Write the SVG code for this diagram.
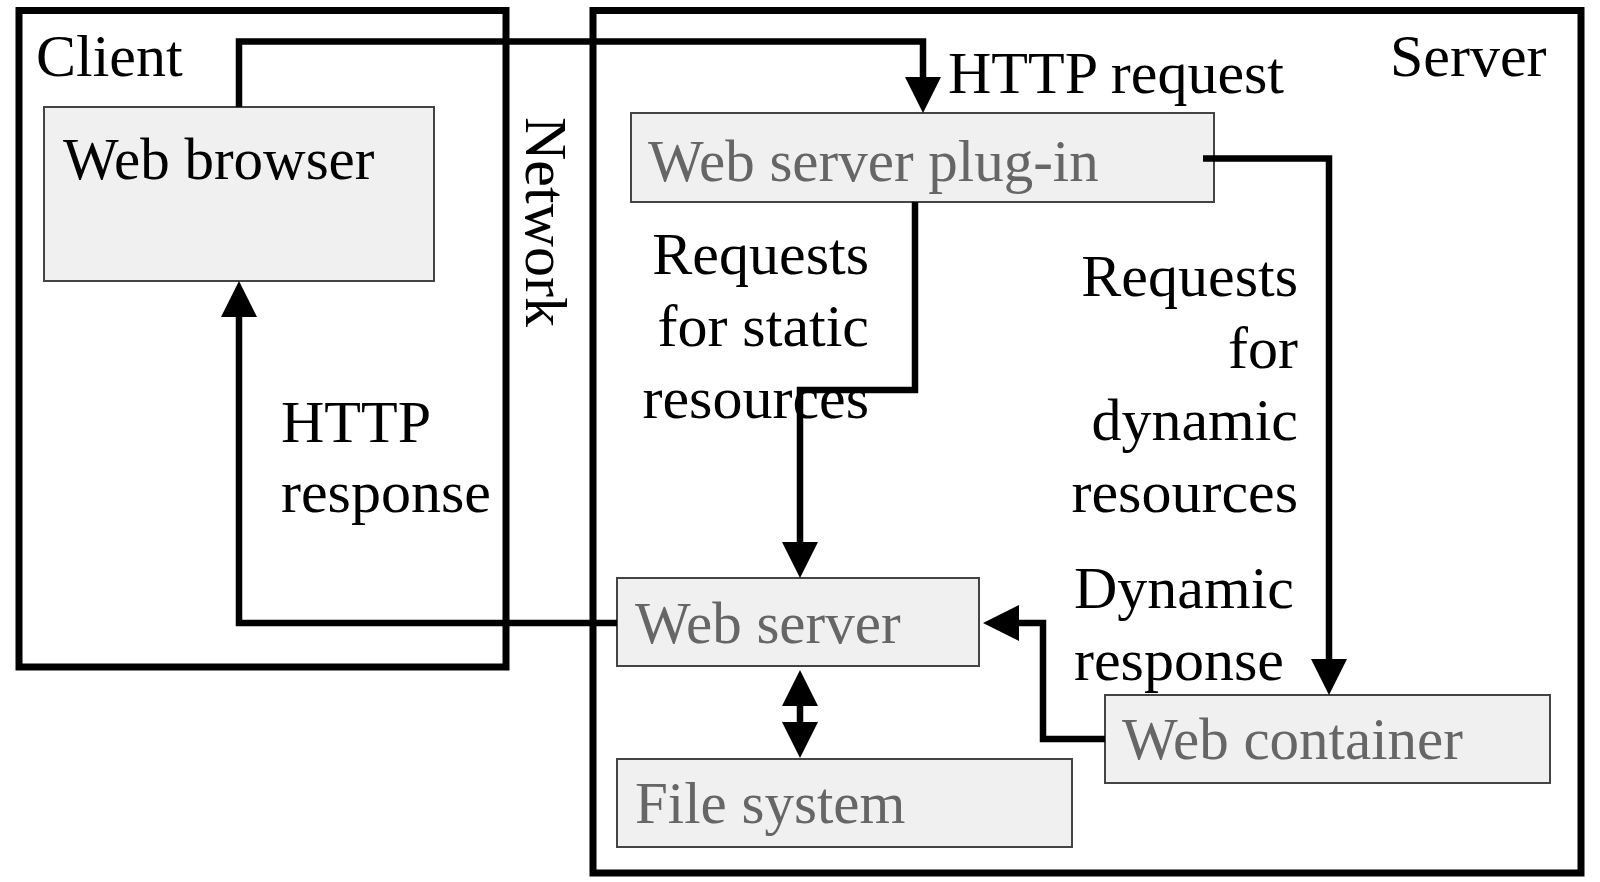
<svg xmlns="http://www.w3.org/2000/svg" width="1600" height="882" viewBox="0 0 1600 882">
  <style>
    .frame { fill: none; stroke: #000; stroke-width: 7; }
    .box { fill: #f0f0f0; stroke: #444; stroke-width: 2; }
    .t { font-family: "Liberation Serif", "Times New Roman", serif; font-size: 60px; fill: #000; }
    .bt { font-family: "Liberation Serif", "Times New Roman", serif; font-size: 59px; fill: #666; }
    .bk { fill: #000; }
    .conn { fill: none; stroke: #000; stroke-width: 6.5; stroke-linejoin: miter; }
  </style>
  <defs>
    <marker id="ah" markerUnits="userSpaceOnUse" markerWidth="36" markerHeight="36" viewBox="0 0 36 36" refX="0" refY="18" orient="auto-start-reverse">
      <path d="M0,0 L36,18 L0,36 z" fill="#000"/>
    </marker>
  </defs>
  <rect width="1600" height="882" fill="#fff"/>

  <g id="client">
    <rect class="frame" x="19" y="10.5" width="487" height="656.5"/>
    <text class="t" x="36" y="76">Client</text>
  </g>
  <g id="server">
    <rect class="frame" x="593" y="10.5" width="988" height="862.5"/>
    <text class="t" x="1390" y="76">Server</text>
  </g>
  <g id="network">
    <text class="t" transform="translate(526,117) rotate(90)">Network</text>
  </g>

  <g id="web-browser">
    <rect class="box" x="44" y="107" width="390" height="174"/>
    <text class="bt bk" x="63" y="179">Web browser</text>
  </g>
  <g id="web-server-plugin">
    <rect class="box" x="631" y="113" width="583" height="89"/>
    <text class="bt" x="648" y="181">Web server plug-in</text>
  </g>
  <g id="web-server">
    <rect class="box" x="617" y="578" width="362" height="88"/>
    <text class="bt" x="635" y="643">Web server</text>
  </g>
  <g id="file-system">
    <rect class="box" x="617" y="759" width="455" height="88"/>
    <text class="bt" x="635" y="823">File system</text>
  </g>
  <g id="web-container">
    <rect class="box" x="1105" y="695" width="445" height="88"/>
    <text class="bt" x="1122" y="759">Web container</text>
  </g>

  <g id="labels">
    <text class="t" x="948" y="93">HTTP request</text>
    <text class="t" x="281" y="442">HTTP</text>
    <text class="t" x="281" y="512">response</text>
    <g text-anchor="end">
      <text class="t" x="869" y="274">Requests</text>
      <text class="t" x="869" y="346">for static</text>
      <text class="t" x="869" y="418">resources</text>
      <text class="t" x="1298" y="296">Requests</text>
      <text class="t" x="1298" y="368">for</text>
      <text class="t" x="1298" y="440">dynamic</text>
      <text class="t" x="1298" y="512">resources</text>
    </g>
    <text class="t" x="1074" y="608">Dynamic</text>
    <text class="t" x="1074" y="680">response</text>
  </g>

  <g id="connectors">
    <path class="conn" d="M239,107 L239,41.5 L923,41.5 L923,77" marker-end="url(#ah)"/>
    <path class="conn" d="M1203,158.5 L1329,158.5 L1329,659" marker-end="url(#ah)"/>
    <path class="conn" d="M915,202 L915,390 L800,390 L800,542" marker-end="url(#ah)"/>
    <path class="conn" d="M1105,739 L1043,739 L1043,623 L1019,623" marker-end="url(#ah)"/>
    <path class="conn" d="M617,623 L239,623 L239,317" marker-end="url(#ah)"/>
    <path class="conn" d="M800,706 L800,722" marker-start="url(#ah)" marker-end="url(#ah)"/>
  </g>
</svg>
